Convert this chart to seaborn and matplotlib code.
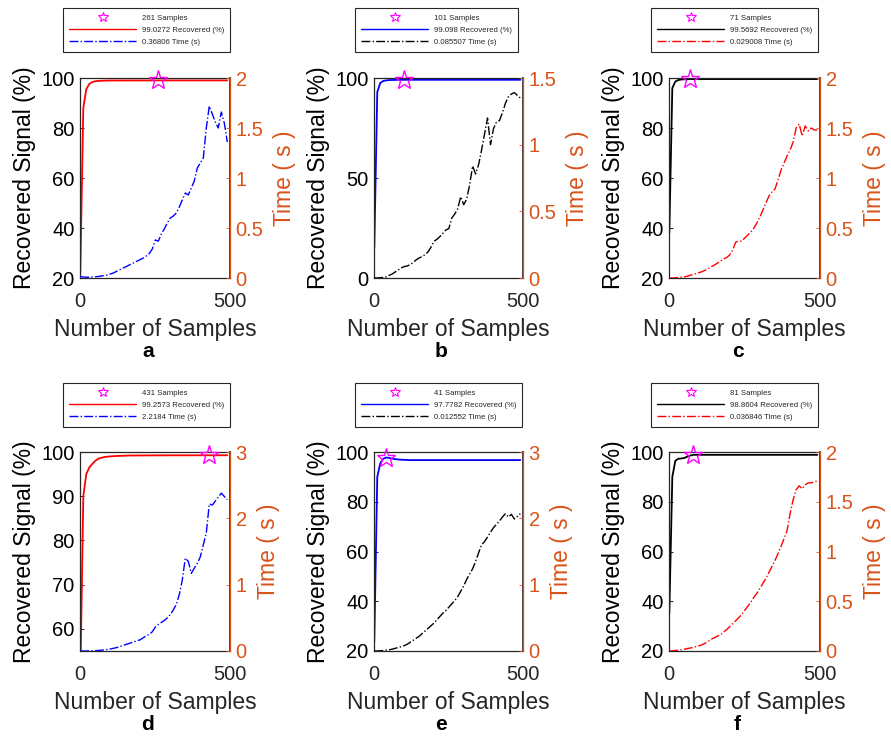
import numpy as np
import pandas as pd
import matplotlib
matplotlib.use("Agg")
import matplotlib.pyplot as plt
from matplotlib.lines import Line2D
from matplotlib.ticker import FuncFormatter
import seaborn as sns

sns.set_theme(style="white")
plt.rcParams["font.family"] = ["Liberation Sans", "DejaVu Sans"]

# number of samples used at each step
samples = [1, 11, 21, 31, 41, 51, 61, 71, 81, 91,
           101, 111, 121, 131, 141, 151, 161, 171, 181, 191,
           201, 211, 221, 231, 241, 251, 261, 271, 281, 291,
           301, 311, 321, 331, 341, 351, 361, 371, 381, 391,
           401, 411, 421, 431, 441, 451, 461, 471, 481, 491]

# recovered signal (%) per panel
rec_a = [22.0, 88.0, 95.5, 97.6, 98.4, 98.7, 98.85, 98.9, 98.95, 98.98,
         99.0, 99.0, 99.01, 99.01, 99.01, 99.02, 99.02, 99.02, 99.02, 99.02,
         99.02, 99.02, 99.02, 99.02, 99.03, 99.03, 99.0272, 99.03, 99.03, 99.03,
         99.03, 99.03, 99.03, 99.03, 99.03, 99.03, 99.03, 99.03, 99.03, 99.03,
         99.03, 99.03, 99.03, 99.03, 99.03, 99.03, 99.03, 99.03, 99.03, 99.03]
rec_b = [15.0, 93.0, 97.5, 98.5, 98.8, 98.95, 99.0, 99.05, 99.08, 99.09,
         99.098, 99.1, 99.1, 99.1, 99.1, 99.1, 99.1, 99.1, 99.1, 99.1,
         99.1, 99.1, 99.1, 99.1, 99.1, 99.1, 99.1, 99.1, 99.1, 99.1,
         99.1, 99.1, 99.1, 99.1, 99.1, 99.1, 99.1, 99.1, 99.1, 99.1,
         99.1, 99.1, 99.1, 99.1, 99.1, 99.1, 99.1, 99.1, 99.1, 99.1]
rec_c = [38.0, 96.0, 98.6, 99.2, 99.4, 99.5, 99.55, 99.5692, 99.57, 99.57,
         99.57, 99.57, 99.57, 99.57, 99.57, 99.57, 99.57, 99.57, 99.57, 99.57,
         99.57, 99.57, 99.57, 99.57, 99.57, 99.57, 99.57, 99.57, 99.57, 99.57,
         99.57, 99.57, 99.57, 99.57, 99.57, 99.57, 99.57, 99.57, 99.57, 99.57,
         99.57, 99.57, 99.57, 99.57, 99.57, 99.57, 99.57, 99.57, 99.57, 99.57]
rec_d = [48.0, 90.0, 95.0, 96.5, 97.3, 98.0, 98.5, 98.7, 98.85, 98.95,
         99.0, 99.05, 99.1, 99.12, 99.15, 99.17, 99.2, 99.2, 99.21, 99.21,
         99.22, 99.22, 99.23, 99.23, 99.23, 99.24, 99.24, 99.24, 99.24, 99.25,
         99.25, 99.25, 99.25, 99.25, 99.25, 99.25, 99.25, 99.25, 99.25, 99.25,
         99.26, 99.26, 99.26, 99.2573, 99.26, 99.26, 99.26, 99.26, 99.26, 99.26]
rec_e = [24.0, 90.0, 95.5, 97.3, 97.7782, 97.6, 97.35, 97.15, 97.0, 96.9,
         96.85, 96.8, 96.75, 96.75, 96.75, 96.75, 96.75, 96.75, 96.75, 96.75,
         96.75, 96.75, 96.75, 96.75, 96.75, 96.75, 96.75, 96.75, 96.75, 96.75,
         96.75, 96.75, 96.75, 96.75, 96.75, 96.75, 96.75, 96.75, 96.75, 96.75,
         96.75, 96.75, 96.75, 96.75, 96.75, 96.75, 96.75, 96.75, 96.75, 96.75]
rec_f = [35.0, 90.0, 96.5, 97.3, 97.4, 97.6, 98.2, 98.6, 98.8604, 98.86,
         98.86, 98.86, 98.86, 98.86, 98.86, 98.86, 98.86, 98.86, 98.86, 98.86,
         98.86, 98.86, 98.86, 98.86, 98.86, 98.86, 98.86, 98.86, 98.86, 98.86,
         98.86, 98.86, 98.86, 98.86, 98.86, 98.86, 98.86, 98.86, 98.86, 98.86,
         98.86, 98.86, 98.86, 98.86, 98.86, 98.86, 98.86, 98.86, 98.86, 98.86]

# computation time (s) per panel
time_a = [0.015, 0.01, 0.008, 0.008, 0.01, 0.012, 0.015, 0.02, 0.025, 0.03,
          0.04, 0.05, 0.065, 0.08, 0.095, 0.11, 0.125, 0.14, 0.155, 0.17,
          0.185, 0.2, 0.22, 0.245, 0.29, 0.38, 0.36806, 0.44, 0.49, 0.55,
          0.6, 0.62, 0.65, 0.71, 0.78, 0.85, 0.83, 0.9, 0.97, 1.1,
          1.15, 1.2, 1.5, 1.72, 1.64, 1.56, 1.5, 1.66, 1.55, 1.36]
time_b = [0.0, 0.0, 0.002, 0.004, 0.008, 0.02, 0.03, 0.045, 0.06, 0.075,
          0.085507, 0.09, 0.1, 0.115, 0.135, 0.15, 0.16, 0.175, 0.195, 0.23,
          0.275, 0.29, 0.31, 0.335, 0.36, 0.37, 0.45, 0.48, 0.52, 0.61,
          0.55, 0.59, 0.7, 0.84, 0.78, 0.85, 0.96, 1.08, 1.2, 1.0,
          1.12, 1.17, 1.18, 1.24, 1.31, 1.36, 1.38, 1.39, 1.37, 1.35]
time_c = [0.0, 0.0, 0.002, 0.005, 0.008, 0.012, 0.018, 0.029008, 0.035, 0.045,
          0.055, 0.065, 0.08, 0.095, 0.115, 0.13, 0.15, 0.17, 0.19, 0.205,
          0.23, 0.28, 0.36, 0.367, 0.37, 0.4, 0.43, 0.46, 0.5, 0.55,
          0.61, 0.68, 0.75, 0.82, 0.86, 0.89, 0.98, 1.08, 1.15, 1.22,
          1.28, 1.36, 1.5, 1.54, 1.42, 1.52, 1.47, 1.5, 1.48, 1.48]
time_d = [0.0, 0.0, 0.0, 0.002, 0.004, 0.006, 0.008, 0.012, 0.017, 0.023,
          0.03, 0.04, 0.05, 0.065, 0.08, 0.095, 0.11, 0.125, 0.14, 0.155,
          0.17, 0.2, 0.23, 0.25, 0.29, 0.36, 0.4, 0.43, 0.46, 0.5,
          0.55, 0.62, 0.7, 0.85, 1.07, 1.4, 1.35, 1.17, 1.25, 1.32,
          1.42, 1.6, 1.78, 2.2184, 2.2, 2.26, 2.32, 2.38, 2.33, 2.28]
time_e = [0.0, 0.0, 0.003, 0.006, 0.012552, 0.018, 0.028, 0.04, 0.052, 0.065,
          0.08, 0.1, 0.13, 0.16, 0.19, 0.22, 0.26, 0.3, 0.34, 0.38,
          0.42, 0.47, 0.52, 0.57, 0.61, 0.66, 0.71, 0.76, 0.82, 0.9,
          0.98, 1.08, 1.16, 1.24, 1.35, 1.48, 1.6, 1.65, 1.72, 1.79,
          1.86, 1.91, 1.96, 2.02, 2.07, 2.02, 2.06, 1.99, 2.03, 2.07]
time_f = [0.0, 0.002, 0.005, 0.008, 0.012, 0.018, 0.025, 0.03, 0.036846, 0.045,
          0.054, 0.065, 0.08, 0.1, 0.12, 0.135, 0.15, 0.165, 0.19, 0.215,
          0.245, 0.275, 0.305, 0.335, 0.37, 0.41, 0.45, 0.49, 0.54, 0.58,
          0.63, 0.68, 0.73, 0.79, 0.85, 0.91, 0.98, 1.05, 1.13, 1.21,
          1.38, 1.52, 1.62, 1.66, 1.63, 1.67, 1.69, 1.69, 1.7, 1.71]

# best operating point per panel
best_samples = [261, 101, 71, 431, 41, 81]
best_rec = [99.0272, 99.098, 99.5692, 99.2573, 97.7782, 98.8604]
best_time = [0.36806, 0.085507, 0.029008, 2.2184, 0.012552, 0.036846]

panel_letters = ["a", "b", "c", "d", "e", "f"]
recovered = [rec_a, rec_b, rec_c, rec_d, rec_e, rec_f]
times = [time_a, time_b, time_c, time_d, time_e, time_f]
rec_colors = ["#FF0000", "#0000FF", "#000000", "#FF0000", "#0000FF", "#000000"]
time_colors = ["#0000FF", "#000000", "#FF0000", "#0000FF", "#000000", "#FF0000"]
left_limits = [(20, 100), (0, 100), (20, 100), (55, 100), (20, 100), (20, 100)]
left_ticks = [[20, 40, 60, 80, 100], [0, 50, 100], [20, 40, 60, 80, 100],
              [60, 70, 80, 90, 100], [20, 40, 60, 80, 100], [20, 40, 60, 80, 100]]
right_limits = [(0, 2), (0, 1.5), (0, 2), (0, 3), (0, 3), (0, 2)]
right_ticks = [[0, 0.5, 1, 1.5, 2], [0, 0.5, 1, 1.5], [0, 0.5, 1, 1.5, 2],
               [0, 1, 2, 3], [0, 1, 2, 3], [0, 0.5, 1, 1.5, 2]]

ORANGE = "#D95319"
W, H = 891, 743
fig = plt.figure(figsize=(W / 100, H / 100), dpi=100)

col_left = [80, 374, 669]
col_right = [230, 523, 820]
row_top = [78, 452]
row_bottom = [278, 651]
legend_left = [63, 355, 651]
legend_top = [8, 383]

TICK_FS = 14.5
LABEL_FS = 16.5

fmt = FuncFormatter(lambda v, p: "%g" % v)

for i in range(6):
    r, c = divmod(i, 3)
    x0, x1 = col_left[c], col_right[c]
    y0, y1 = row_top[r], row_bottom[r]
    ax = fig.add_axes([x0 / W, 1 - y1 / H, (x1 - x0) / W, (y1 - y0) / H])
    df = pd.DataFrame({"samples": samples, "rec": recovered[i], "time": times[i]})

    sns.lineplot(data=df, x="samples", y="rec", ax=ax, color=rec_colors[i],
                 linewidth=1.3, legend=False)
    ax.plot([best_samples[i]], [best_rec[i]], linestyle="none", marker="*",
            markersize=14, markerfacecolor="none", markeredgecolor="#FF00FF",
            markeredgewidth=1.0, clip_on=False, zorder=5)
    ax.set_xlim(0, 500)
    ax.set_ylim(*left_limits[i])
    ax.set_xticks([0, 500])
    ax.set_yticks(left_ticks[i])
    ax.yaxis.set_major_formatter(fmt)
    ax.set_xlabel("Number of Samples", fontsize=LABEL_FS, color="#262626", labelpad=5)
    ax.set_ylabel("Recovered Signal (%)", fontsize=LABEL_FS, color="#000000", labelpad=4)
    ax.tick_params(axis="y", direction="in", length=3, width=0.6,
                   labelsize=TICK_FS, colors="#000000", pad=4)
    ax.tick_params(axis="x", direction="in", length=3, width=0.6,
                   labelsize=TICK_FS, colors="#262626", pad=10)
    for side in ["left", "top", "bottom"]:
        ax.spines[side].set_color("#262626")
        ax.spines[side].set_linewidth(0.9)

    ax2 = ax.twinx()
    sns.lineplot(data=df, x="samples", y="time", ax=ax2, color=time_colors[i],
                 linewidth=1.0, linestyle="-.", legend=False)
    ax2.set_ylim(*right_limits[i])
    ax2.set_yticks(right_ticks[i])
    ax2.yaxis.set_major_formatter(fmt)
    ax2.set_ylabel("Time ( s )", fontsize=LABEL_FS, color=ORANGE, labelpad=7)
    ax2.tick_params(axis="y", direction="in", length=3, width=0.6,
                    labelsize=TICK_FS, colors=ORANGE, pad=4)
    ax2.spines["right"].set_color(ORANGE)
    ax2.spines["right"].set_linewidth(0.9)
    for side in ["left", "top", "bottom"]:
        ax2.spines[side].set_visible(False)

    handles = [
        Line2D([], [], linestyle="none", marker="*", markersize=7,
               markerfacecolor="none", markeredgecolor="#FF00FF", markeredgewidth=0.8),
        Line2D([], [], color=rec_colors[i], linewidth=1.0),
        Line2D([], [], color=time_colors[i], linewidth=1.0, linestyle="-."),
    ]
    labels = [
        "%d Samples" % best_samples[i],
        "%g Recovered (%%)" % best_rec[i],
        "%g Time (s)" % best_time[i],
    ]
    leg = ax.legend(handles, labels, loc="upper left",
                    bbox_to_anchor=(legend_left[c] / W, 1 - legend_top[r] / H),
                    bbox_transform=fig.transFigure, fontsize=5.6,
                    handlelength=8.6, handletextpad=0.7, labelspacing=0.58,
                    borderpad=0.8, borderaxespad=0, frameon=True, fancybox=False,
                    framealpha=1, edgecolor="#262626")
    leg.get_frame().set_linewidth(0.8)

    fig.text(((x0 + x1) / 2 - 7) / W, 1 - (y1 + 74) / H, panel_letters[i],
             ha="center", va="center", fontsize=15, fontweight="bold", color="#000000")

fig.savefig("out.png", dpi=100)
